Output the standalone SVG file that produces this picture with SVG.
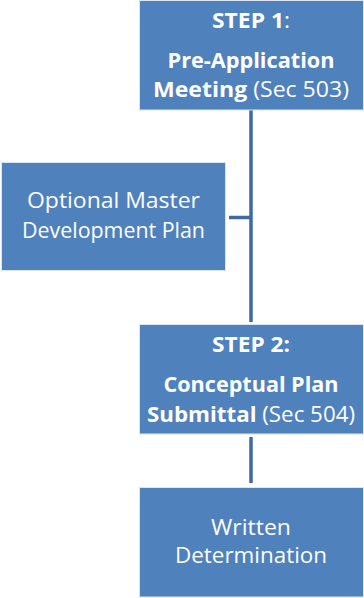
<svg xmlns="http://www.w3.org/2000/svg" width="364" height="598" viewBox="0 0 364 598">
<style>
.box{fill:#4F81BD;stroke:#DCE6F2;stroke-width:1}
.conn{stroke:#3E6A9E;stroke-width:3.5;fill:none}
text{font-family:"Open Sans","Liberation Sans",sans-serif;fill:#FFFFFF;text-anchor:middle;font-size:22px}
.b{font-weight:bold}
</style>
<rect width="364" height="598" fill="#FFFFFF"/>
<g id="connectors">
<line class="conn" x1="251" y1="110" x2="251" y2="322"/>
<line class="conn" x1="229" y1="217.5" x2="251" y2="217.5"/>
<line class="conn" x1="251" y1="437" x2="251" y2="483"/>
</g>
<g id="step1">
<rect class="box" x="139.5" y="0.5" width="224" height="109.5"/>
<text x="251" y="28" textLength="78" lengthAdjust="spacingAndGlyphs"><tspan class="b">STEP 1</tspan>:</text>
<text x="251" y="68" class="b" textLength="167" lengthAdjust="spacingAndGlyphs">Pre-Application</text>
<text x="251" y="97" textLength="196" lengthAdjust="spacingAndGlyphs"><tspan class="b">Meeting</tspan> (Sec 503)</text>
</g>
<g id="optional">
<rect class="box" x="1.5" y="162.5" width="224" height="108"/>
<text x="113.5" y="208" textLength="173" lengthAdjust="spacingAndGlyphs">Optional Master</text>
<text x="113.5" y="238" textLength="183" lengthAdjust="spacingAndGlyphs">Development Plan</text>
</g>
<g id="step2">
<rect class="box" x="139.5" y="324.5" width="224" height="109.5"/>
<text x="251" y="352" class="b" textLength="78" lengthAdjust="spacingAndGlyphs">STEP 2:</text>
<text x="251" y="392" class="b" textLength="175" lengthAdjust="spacingAndGlyphs">Conceptual Plan</text>
<text x="251" y="422" textLength="208" lengthAdjust="spacingAndGlyphs"><tspan class="b">Submittal</tspan> (Sec 504)</text>
</g>
<g id="written">
<rect class="box" x="139.5" y="487.5" width="224" height="109.5"/>
<text x="251" y="535" textLength="80" lengthAdjust="spacingAndGlyphs">Written</text>
<text x="251" y="563" textLength="152" lengthAdjust="spacingAndGlyphs">Determination</text>
</g>
</svg>
